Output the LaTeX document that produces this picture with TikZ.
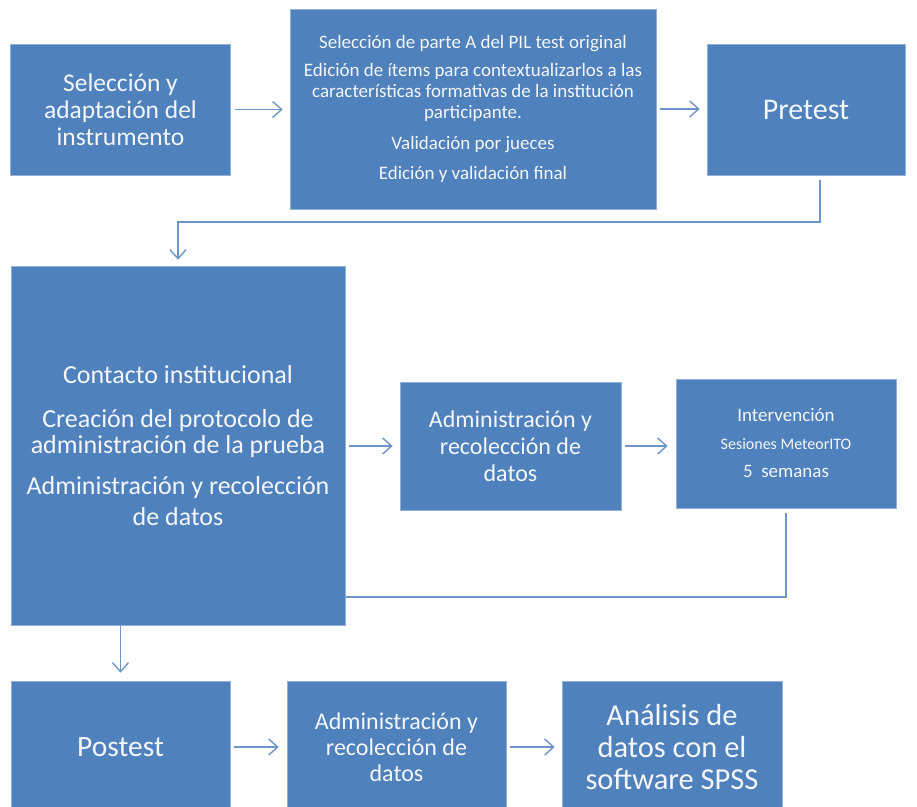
\documentclass[tikz,border=0pt]{standalone}
\usepackage{fontspec}
\setmainfont{Carlito}
\usetikzlibrary{arrows.meta,backgrounds}
\definecolor{boxblue}{HTML}{4F81BD}
\definecolor{edgeblue}{HTML}{94B0D8}
\definecolor{lineblue}{HTML}{6E94C8}
\definecolor{txtwhite}{HTML}{F4F6FA}
\begin{document}
\begin{tikzpicture}[x=1pt,y=-1pt,
  box/.style={rectangle, fill=boxblue, draw=edgeblue, line width=0.6pt, text=txtwhite, align=center, inner sep=0pt},
  conn/.style={draw=lineblue, line width=1.6pt},
  arr/.style={conn, -{Straight Barb[length=9pt,width=16pt,line width=1.4pt]}}]
\useasboundingbox (0,0) rectangle (917,806);

\node[box, minimum width=220pt, minimum height=131pt, font={\fontsize{25.5}{27}\selectfont}] (sel) at (120.5,109.5)
  {Selección y\\adaptación del\\instrumento};
\node[box, minimum width=366pt, minimum height=200pt, font={\fontsize{19}{21}\selectfont}] (edit) at (473,109)
  {Selección de parte A del PIL test original\\[7pt]
   Edición de ítems para contextualizarlos a las\\características formativas de la institución\\participante.\\[10pt]
   Validación por jueces\\[9pt]
   Edición y validación final};
\node[box, minimum width=198pt, minimum height=131pt, font={\fontsize{30}{31}\selectfont}] (pre) at (806,109.5)
  {Pretest};
\node[box, minimum width=334pt, minimum height=359pt, font={\fontsize{26}{26}\selectfont}] (big) at (178,445.5)
  {Contacto institucional\\[18pt]
   Creación del protocolo de\\administración de la prueba\\[15pt]
   Administración y recolección\\[5pt]de datos};
\node[box, minimum width=221pt, minimum height=128pt, font={\fontsize{24}{27}\selectfont}] (adm) at (510.5,446)
  {Administración y\\recolección de\\datos};
\node[box, minimum width=220pt, minimum height=129pt, font={\fontsize{19}{28}\selectfont}] (int) at (786,443.5)
  {Intervención\\{\fontsize{16}{28}\selectfont Sesiones MeteorITO}\\5\ \ semanas};
\node[box, minimum width=219pt, minimum height=132pt, font={\fontsize{29.5}{30}\selectfont}] (post) at (120.5,747)
  {Postest};
\node[box, minimum width=219pt, minimum height=132pt, font={\fontsize{24}{26}\selectfont}] (adm2) at (396.5,747)
  {Administración y\\recolección de\\datos};
\node[box, minimum width=220pt, minimum height=132pt, font={\fontsize{30.5}{32}\selectfont}] (ana) at (672,747)
  {Análisis de\\datos con el\\software SPSS};

\begin{scope}[on background layer]
  \draw[arr] ([xshift=4pt]sel.east) -- ([xshift=-7pt]sel.east -| edit.west);
  \draw[arr] ([xshift=4pt]edit.east) -- ([xshift=-7pt]edit.east -| pre.west);
  \coordinate (p1) at (820,222);
  \draw[arr] ([yshift=-5pt]pre.south -| p1) -- (p1) -| ([yshift=6pt]big.north);
  \draw[arr] ([xshift=4pt]big.east |- adm.west) -- ([xshift=-7pt]adm.west);
  \draw[arr] ([xshift=4pt]adm.east) -- ([xshift=-8pt]adm.east -| int.west);
  \coordinate (r1) at (786,597);
  \draw[conn] ([yshift=-5pt]int.south) -- (r1) -- (r1 -| post.north);
  \draw[arr] (big.south -| post.north) -- ([yshift=8pt]post.north);
  \draw[arr] ([xshift=4pt]post.east) -- ([xshift=-8pt]adm2.west);
  \draw[arr] ([xshift=4pt]adm2.east) -- ([xshift=-7pt]ana.west);
\end{scope}
\end{tikzpicture}
\end{document}
